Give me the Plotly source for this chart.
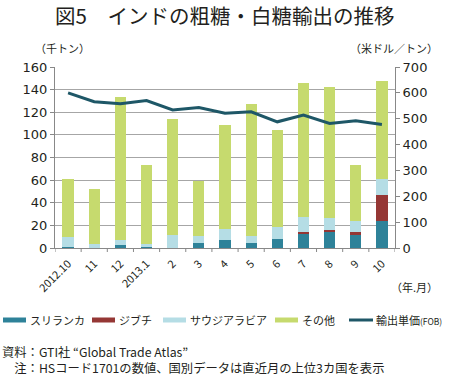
import plotly.graph_objects as go

categories = ["2012.10", "11", "12", "2013.1", "2", "3", "4", "5", "6", "7", "8", "9", "10"]
sri_lanka = [0.5, 0.3, 3, 0.5, 0.3, 4.5, 7.5, 4.5, 8, 12.5, 14, 11.5, 24]
djibouti = [0, 0, 0, 0, 0, 0, 0, 0, 0, 1.5, 2, 2.5, 23]
saudi = [9, 3.5, 4.5, 3.3, 11.2, 6.2, 9, 6.5, 11, 13.7, 10.9, 9.6, 13.8]
others = [51.5, 48.2, 125.7, 69.2, 102.5, 48.6, 92.5, 116.5, 85, 118.3, 115.7, 50.2, 86.6]
price = [600, 566, 558, 570, 534, 543, 521, 527, 488, 514, 482, 492, 478]

series_names = ["スリランカ", "ジブチ", "サウジアラビア", "その他",
                "輸出単価<span style='font-size:8.5px'>(FOB)</span>"]
colors = ["#2E8299", "#953735", "#B5DDE5", "#C6DA6E", "#1E5767"]

FONT = "Noto Sans CJK JP"
W, H = 450, 377
L, R, T, B = 55, 55, 67, 129
PW, PH = W - L - R, H - T - B


def px(xp):
    return (xp - L) / PW


def py(yp):
    return (H - B - yp) / PH


x = list(range(len(categories)))

fig = go.Figure()
for vals, name, col in zip([sri_lanka, djibouti, saudi, others], series_names[:4], colors[:4]):
    fig.add_bar(x=x, y=vals, name=name, marker_color=col, marker_line_width=0, showlegend=False)
fig.add_scatter(x=x, y=price, name="輸出単価(FOB)", mode="lines",
                line=dict(color=colors[4], width=3), yaxis="y2", showlegend=False)

fig.update_layout(
    width=W, height=H,
    margin=dict(l=L, r=R, t=T, b=B, autoexpand=False),
    paper_bgcolor="white", plot_bgcolor="white",
    barmode="stack", bargap=0.57,
    font=dict(family=FONT, color="#231F20", size=13),
    showlegend=False,
    xaxis=dict(tickmode="array", tickvals=x, ticktext=categories, tickangle=-45,
               range=[-0.5, 12.5], showline=True, linecolor="#888888",
               ticks="", tickfont=dict(size=11, family=FONT), showgrid=False,
               ticklabelstandoff=4),
    yaxis=dict(range=[0, 160], dtick=20, showgrid=True, gridcolor="#A6A6A6",
               showline=True, linecolor="#888888", ticks="outside", ticklen=4,
               tickcolor="#888888", tickfont=dict(size=13, family="DejaVu Sans"), zeroline=False),
    yaxis2=dict(range=[0, 700], dtick=100, overlaying="y", side="right",
                showgrid=False, showline=True, linecolor="#888888", ticks="outside",
                ticklen=4, tickcolor="#888888",
                tickfont=dict(size=13, family="DejaVu Sans"), zeroline=False),
)

# tick marks between categories
for i in range(14):
    fig.add_shape(type="line", xref="x", yref="paper", x0=i - 0.5, x1=i - 0.5,
                  y0=0, y1=-4 / PH, line=dict(color="#888888", width=1))

# custom legend
leg_x = [3, 92, 163, 275, 349]
leg_y = 320
for i, (name, col) in enumerate(zip(series_names, colors)):
    x0 = leg_x[i]
    if i < 4:
        fig.add_shape(type="rect", xref="paper", yref="paper",
                      x0=px(x0), x1=px(x0 + 23), y0=py(leg_y + 2.5), y1=py(leg_y - 2.5),
                      fillcolor=col, line=dict(width=0))
    else:
        fig.add_shape(type="line", xref="paper", yref="paper",
                      x0=px(x0), x1=px(x0 + 24), y0=py(leg_y), y1=py(leg_y),
                      line=dict(color=col, width=3))
    fig.add_annotation(text=name, xref="paper", yref="paper", x=px(x0 + 25), y=py(leg_y),
                       showarrow=False, xanchor="left", yanchor="middle",
                       font=dict(size=11, family=FONT))

fig.add_annotation(text="図5　インドの粗糖・白糖輸出の推移", xref="paper", yref="paper",
                   x=px(224), y=py(15), showarrow=False,
                   font=dict(size=20.5, family=FONT, color="#231F20"), xanchor="center", yanchor="middle")
fig.add_annotation(text="（千トン）", xref="paper", yref="paper", x=px(33), y=py(48),
                   showarrow=False, font=dict(size=11, family=FONT), xanchor="left", yanchor="middle")
fig.add_annotation(text="（米ドル／トン）", xref="paper", yref="paper", x=px(440), y=py(48),
                   showarrow=False, font=dict(size=11, family=FONT), xanchor="right", yanchor="middle")
fig.add_annotation(text="（年.月）", xref="paper", yref="paper", x=px(440), y=py(287),
                   showarrow=False, font=dict(size=11, family=FONT), xanchor="right", yanchor="middle")
fig.add_annotation(text="資料：GTI社 “Global Trade Atlas”<br>　注：HSコード1701の数値、国別データは直近月の上位3カ国を表示",
                   xref="paper", yref="paper", x=px(1), y=py(360), showarrow=False,
                   font=dict(size=12.3, family=FONT), align="left",
                   xanchor="left", yanchor="middle", borderpad=0)

fig.write_html("out.html", config={"displayModeBar": False},
               post_script="document.body.style.margin='0';")
